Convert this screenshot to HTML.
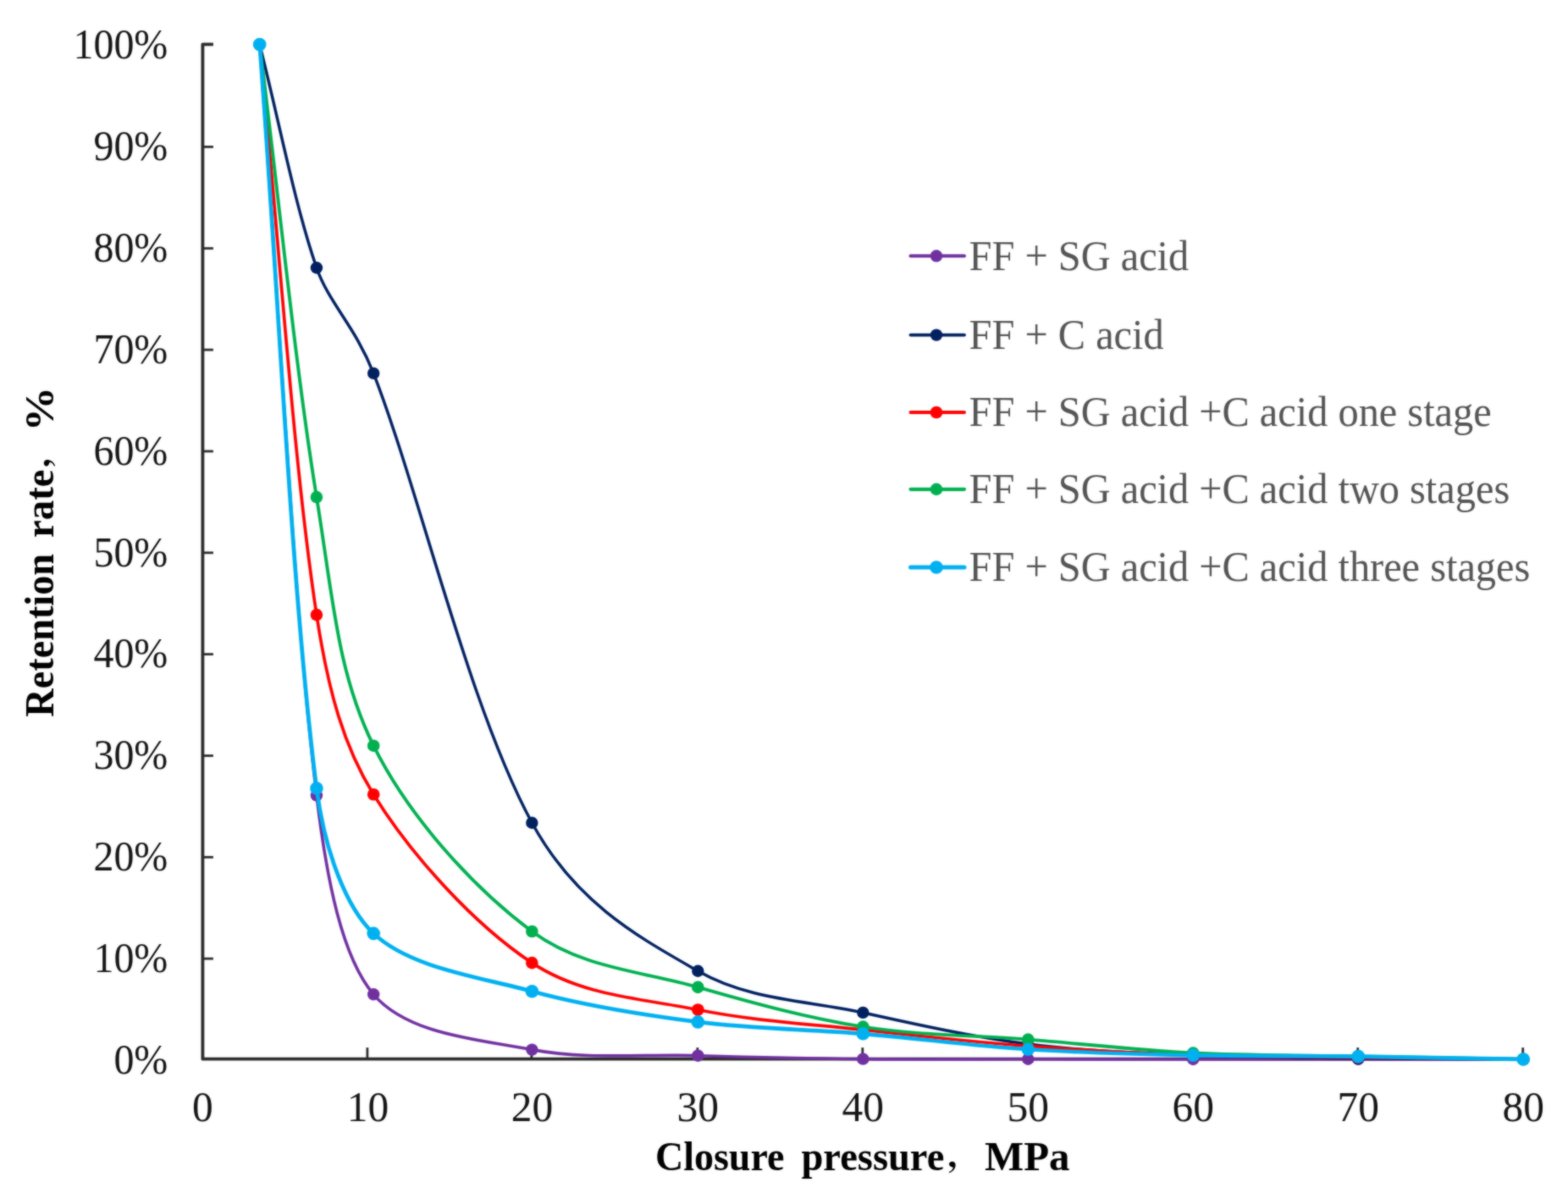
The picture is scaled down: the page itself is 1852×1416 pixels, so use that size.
<!DOCTYPE html>
<html lang="en">
<head>
<meta charset="utf-8">
<title></title>
<style>
html,body{margin:0;padding:0;background:#fff;}
body{width:1852px;height:1416px;overflow:hidden;}
svg{display:block;}
text{font-family:"Liberation Serif","Noto Serif CJK SC",serif;}
.tick{font-size:51px;fill:#141414;}
.leg{font-size:50px;fill:#545454;}
.ttl{font-size:47.5px;font-weight:bold;fill:#000;}
.cm{font-size:36px;font-weight:bold;}
</style>
</head>
<body>
<svg width="1852" height="1416" viewBox="0 0 1852 1416">
<defs><filter id="soft" x="0" y="0" width="1852" height="1416" filterUnits="userSpaceOnUse" color-interpolation-filters="sRGB"><feGaussianBlur in="SourceGraphic" stdDeviation="1.0" result="b"/><feComposite in="SourceGraphic" in2="b" operator="arithmetic" k1="0" k2="0.40" k3="0.60" k4="0"/></filter></defs>
<g filter="url(#soft)">
<rect x="0" y="0" width="1852" height="1416" fill="#ffffff"/>
<g stroke="#2b2b2b" stroke-width="3.8" fill="none" stroke-linejoin="round">
<path d="M251.90 52.30 H239.40 V1250.70 H1800.20"/>
</g>
<g stroke="#2b2b2b" stroke-width="2.8" fill="none">
<line x1="239.40" y1="1132.16" x2="251.90" y2="1132.16"/>
<line x1="239.40" y1="1012.32" x2="251.90" y2="1012.32"/>
<line x1="239.40" y1="892.48" x2="251.90" y2="892.48"/>
<line x1="239.40" y1="772.64" x2="251.90" y2="772.64"/>
<line x1="239.40" y1="652.80" x2="251.90" y2="652.80"/>
<line x1="239.40" y1="532.96" x2="251.90" y2="532.96"/>
<line x1="239.40" y1="413.12" x2="251.90" y2="413.12"/>
<line x1="239.40" y1="293.28" x2="251.90" y2="293.28"/>
<line x1="239.40" y1="173.44" x2="251.90" y2="173.44"/>
<line x1="433.88" y1="1250.70" x2="433.88" y2="1237.20"/>
<line x1="627.85" y1="1250.70" x2="627.85" y2="1237.20"/>
<line x1="823.82" y1="1250.70" x2="823.82" y2="1237.20"/>
<line x1="1018.80" y1="1250.70" x2="1018.80" y2="1237.20"/>
<line x1="1213.78" y1="1250.70" x2="1213.78" y2="1237.20"/>
<line x1="1408.75" y1="1250.70" x2="1408.75" y2="1237.20"/>
<line x1="1603.73" y1="1250.70" x2="1603.73" y2="1237.20"/>
<line x1="1798.70" y1="1250.70" x2="1798.70" y2="1237.20"/>
</g>
<g>
<path d="M306.67 52.60 C329.09 348.21 345.13 699.28 373.93 939.42 C386.04 1040.35 404.03 1130.45 441.20 1174.30 C481.39 1221.73 564.32 1227.52 628.35 1239.62 C692.03 1251.65 759.08 1244.85 824.32 1246.69 C889.39 1248.52 954.30 1249.96 1019.30 1250.64 C1084.29 1251.32 1149.28 1250.70 1214.28 1250.76 C1279.27 1250.82 1344.26 1250.96 1409.25 1251.00 C1474.24 1251.04 1539.23 1251.00 1604.23 1251.00 C1669.22 1251.00 1734.21 1251.00 1799.20 1251.00" fill="none" stroke="#7030A0" stroke-width="3.6" stroke-linejoin="round" stroke-linecap="round"/>
<circle cx="306.67" cy="52.60" r="7.2" fill="#7030A0"/>
<circle cx="373.93" cy="939.42" r="7.2" fill="#7030A0"/>
<circle cx="441.20" cy="1174.30" r="7.2" fill="#7030A0"/>
<circle cx="628.35" cy="1239.62" r="7.2" fill="#7030A0"/>
<circle cx="824.32" cy="1246.69" r="7.2" fill="#7030A0"/>
<circle cx="1019.30" cy="1250.64" r="7.2" fill="#7030A0"/>
<circle cx="1214.28" cy="1250.76" r="7.2" fill="#7030A0"/>
<circle cx="1409.25" cy="1251.00" r="7.2" fill="#7030A0"/>
<circle cx="1604.23" cy="1251.00" r="7.2" fill="#7030A0"/>
<circle cx="1799.20" cy="1251.00" r="7.2" fill="#7030A0"/>
</g>
<g>
<path d="M306.67 52.60 C329.09 140.48 347.98 241.33 373.93 316.25 C388.38 357.95 419.86 385.91 441.20 440.88 C496.28 582.80 552.89 832.74 628.35 971.77 C680.00 1066.93 755.44 1107.26 824.32 1146.74 C885.15 1181.61 954.10 1181.45 1019.30 1195.87 C1084.08 1210.21 1149.03 1224.60 1214.28 1233.02 C1279.01 1241.38 1344.22 1243.41 1409.25 1246.21 C1474.21 1249.00 1539.23 1249.00 1604.23 1249.80 C1669.21 1250.60 1734.21 1250.60 1799.20 1251.00" fill="none" stroke="#002060" stroke-width="3.5" stroke-linejoin="round" stroke-linecap="round"/>
<circle cx="306.67" cy="52.60" r="7.2" fill="#002060"/>
<circle cx="373.93" cy="316.25" r="7.2" fill="#002060"/>
<circle cx="441.20" cy="440.88" r="7.2" fill="#002060"/>
<circle cx="628.35" cy="971.77" r="7.2" fill="#002060"/>
<circle cx="824.32" cy="1146.74" r="7.2" fill="#002060"/>
<circle cx="1019.30" cy="1195.87" r="7.2" fill="#002060"/>
<circle cx="1214.28" cy="1233.02" r="7.2" fill="#002060"/>
<circle cx="1409.25" cy="1246.21" r="7.2" fill="#002060"/>
<circle cx="1604.23" cy="1249.80" r="7.2" fill="#002060"/>
<circle cx="1799.20" cy="1251.00" r="7.2" fill="#002060"/>
</g>
<g>
<path d="M306.67 52.60 C329.09 277.10 345.85 541.22 373.93 726.10 C387.84 817.62 406.36 881.93 441.20 938.22 C485.77 1010.22 559.84 1091.68 628.35 1137.15 C687.55 1176.45 758.58 1179.22 824.32 1192.52 C888.89 1205.58 954.27 1209.09 1019.30 1216.25 C1084.25 1223.39 1149.23 1230.42 1214.28 1235.42 C1279.21 1240.41 1344.23 1244.01 1409.25 1246.21 C1474.22 1248.40 1539.23 1247.80 1604.23 1248.60 C1669.22 1249.40 1734.21 1250.20 1799.20 1251.00" fill="none" stroke="#FF0000" stroke-width="3.7" stroke-linejoin="round" stroke-linecap="round"/>
<circle cx="306.67" cy="52.60" r="7.3" fill="#FF0000"/>
<circle cx="373.93" cy="726.10" r="7.3" fill="#FF0000"/>
<circle cx="441.20" cy="938.22" r="7.3" fill="#FF0000"/>
<circle cx="628.35" cy="1137.15" r="7.3" fill="#FF0000"/>
<circle cx="824.32" cy="1192.52" r="7.3" fill="#FF0000"/>
<circle cx="1019.30" cy="1216.25" r="7.3" fill="#FF0000"/>
<circle cx="1214.28" cy="1235.42" r="7.3" fill="#FF0000"/>
<circle cx="1409.25" cy="1246.21" r="7.3" fill="#FF0000"/>
<circle cx="1604.23" cy="1248.60" r="7.3" fill="#FF0000"/>
<circle cx="1799.20" cy="1251.00" r="7.3" fill="#FF0000"/>
</g>
<g>
<path d="M306.67 52.60 C329.09 230.76 348.34 429.56 373.93 587.09 C393.18 705.59 398.33 794.27 441.20 880.69 C483.14 965.24 559.24 1048.55 628.35 1100.00 C686.95 1143.62 758.67 1146.99 824.32 1165.91 C888.98 1184.54 953.90 1202.30 1019.30 1212.65 C1083.89 1222.87 1149.29 1222.48 1214.28 1227.63 C1279.27 1232.78 1344.21 1240.27 1409.25 1243.57 C1474.19 1246.86 1539.23 1246.17 1604.23 1247.40 C1669.22 1248.64 1734.21 1249.80 1799.20 1251.00" fill="none" stroke="#00B050" stroke-width="3.9" stroke-linejoin="round" stroke-linecap="round"/>
<circle cx="306.67" cy="52.60" r="7.3" fill="#00B050"/>
<circle cx="373.93" cy="587.09" r="7.3" fill="#00B050"/>
<circle cx="441.20" cy="880.69" r="7.3" fill="#00B050"/>
<circle cx="628.35" cy="1100.00" r="7.3" fill="#00B050"/>
<circle cx="824.32" cy="1165.91" r="7.3" fill="#00B050"/>
<circle cx="1019.30" cy="1212.65" r="7.3" fill="#00B050"/>
<circle cx="1214.28" cy="1227.63" r="7.3" fill="#00B050"/>
<circle cx="1409.25" cy="1243.57" r="7.3" fill="#00B050"/>
<circle cx="1604.23" cy="1247.40" r="7.3" fill="#00B050"/>
<circle cx="1799.20" cy="1251.00" r="7.3" fill="#00B050"/>
</g>
<g>
<path d="M306.67 52.60 C329.09 345.41 344.18 698.82 373.93 931.03 C383.66 1006.92 409.77 1072.79 441.20 1102.40 C484.44 1143.13 564.50 1153.29 628.35 1170.71 C692.21 1188.13 758.85 1198.51 824.32 1206.90 C889.17 1215.21 954.34 1215.41 1019.30 1220.80 C1084.32 1226.20 1149.22 1235.02 1214.28 1239.26 C1279.20 1243.49 1344.25 1244.81 1409.25 1246.21 C1474.23 1247.60 1539.24 1246.85 1604.23 1247.64 C1669.22 1248.44 1734.21 1249.88 1799.20 1251.00" fill="none" stroke="#00B0F0" stroke-width="4.7" stroke-linejoin="round" stroke-linecap="round"/>
<circle cx="306.67" cy="52.60" r="7.8" fill="#00B0F0"/>
<circle cx="373.93" cy="931.03" r="7.8" fill="#00B0F0"/>
<circle cx="441.20" cy="1102.40" r="7.8" fill="#00B0F0"/>
<circle cx="628.35" cy="1170.71" r="7.8" fill="#00B0F0"/>
<circle cx="824.32" cy="1206.90" r="7.8" fill="#00B0F0"/>
<circle cx="1019.30" cy="1220.80" r="7.8" fill="#00B0F0"/>
<circle cx="1214.28" cy="1239.26" r="7.8" fill="#00B0F0"/>
<circle cx="1409.25" cy="1246.21" r="7.8" fill="#00B0F0"/>
<circle cx="1604.23" cy="1247.64" r="7.8" fill="#00B0F0"/>
<circle cx="1799.20" cy="1251.00" r="7.8" fill="#00B0F0"/>
</g>
<text class="tick" text-anchor="end" transform="translate(198.3 1267.8) scale(0.940 1)">0%</text>
<text class="tick" text-anchor="end" transform="translate(198.3 1148.0) scale(0.940 1)">10%</text>
<text class="tick" text-anchor="end" transform="translate(198.3 1028.1) scale(0.940 1)">20%</text>
<text class="tick" text-anchor="end" transform="translate(198.3 908.3) scale(0.940 1)">30%</text>
<text class="tick" text-anchor="end" transform="translate(198.3 788.4) scale(0.940 1)">40%</text>
<text class="tick" text-anchor="end" transform="translate(198.3 668.6) scale(0.940 1)">50%</text>
<text class="tick" text-anchor="end" transform="translate(198.3 548.8) scale(0.940 1)">60%</text>
<text class="tick" text-anchor="end" transform="translate(198.3 428.9) scale(0.940 1)">70%</text>
<text class="tick" text-anchor="end" transform="translate(198.3 309.1) scale(0.940 1)">80%</text>
<text class="tick" text-anchor="end" transform="translate(198.3 189.2) scale(0.940 1)">90%</text>
<text class="tick" text-anchor="end" transform="translate(198.3 69.4) scale(0.940 1)">100%</text>
<text class="tick" text-anchor="middle" transform="translate(239.4 1323.8) scale(0.970 1)">0</text>
<text class="tick" text-anchor="middle" transform="translate(434.4 1323.8) scale(0.970 1)">10</text>
<text class="tick" text-anchor="middle" transform="translate(628.4 1323.8) scale(0.970 1)">20</text>
<text class="tick" text-anchor="middle" transform="translate(824.3 1323.8) scale(0.970 1)">30</text>
<text class="tick" text-anchor="middle" transform="translate(1019.3 1323.8) scale(0.970 1)">40</text>
<text class="tick" text-anchor="middle" transform="translate(1214.3 1323.8) scale(0.970 1)">50</text>
<text class="tick" text-anchor="middle" transform="translate(1409.2 1323.8) scale(0.970 1)">60</text>
<text class="tick" text-anchor="middle" transform="translate(1604.2 1323.8) scale(0.970 1)">70</text>
<text class="tick" text-anchor="middle" transform="translate(1799.2 1323.8) scale(0.970 1)">80</text>
<text class="ttl" transform="translate(0 1382.0)"><tspan x="774.0" textLength="152.43" lengthAdjust="spacingAndGlyphs">Closure</tspan> <tspan x="946.5" textLength="168.80" lengthAdjust="spacingAndGlyphs">pressure</tspan><tspan x="1118.5" dy="-5.5" class="cm" textLength="43.22" lengthAdjust="spacingAndGlyphs">，</tspan><tspan x="1163.0" dy="5.5" textLength="100.54" lengthAdjust="spacingAndGlyphs">MPa</tspan></text>
<text class="ttl" transform="translate(62.5 0) rotate(-90)"><tspan x="-846.7" textLength="192.74" lengthAdjust="spacingAndGlyphs">Retention</tspan> <tspan x="-635.0" textLength="80.50" lengthAdjust="spacingAndGlyphs">rate</tspan><tspan x="-553.0" dy="-5.5" class="cm" textLength="43.22" lengthAdjust="spacingAndGlyphs">，</tspan><tspan x="-509.5" dy="5.5" textLength="52.73" lengthAdjust="spacingAndGlyphs">%</tspan></text>
<line x1="1075.5" y1="302.3" x2="1139" y2="302.3" stroke="#7030A0" stroke-width="3.9" stroke-linecap="round"/>
<circle cx="1106" cy="302.3" r="7.2" fill="#7030A0"/>
<text class="leg" transform="translate(1144.6 318.7) scale(0.967 1)">FF + SG acid</text>
<line x1="1075.5" y1="395.6" x2="1139" y2="395.6" stroke="#002060" stroke-width="3.8" stroke-linecap="round"/>
<circle cx="1106" cy="395.6" r="7.2" fill="#002060"/>
<text class="leg" transform="translate(1144.6 412.0) scale(0.967 1)">FF + C acid</text>
<line x1="1075.5" y1="487.0" x2="1139" y2="487.0" stroke="#FF0000" stroke-width="4.0" stroke-linecap="round"/>
<circle cx="1106" cy="487.0" r="7.3" fill="#FF0000"/>
<text class="leg" transform="translate(1144.6 503.4) scale(0.967 1)">FF + SG acid +C acid one stage</text>
<line x1="1075.5" y1="577.8" x2="1139" y2="577.8" stroke="#00B050" stroke-width="4.2" stroke-linecap="round"/>
<circle cx="1106" cy="577.8" r="7.3" fill="#00B050"/>
<text class="leg" transform="translate(1144.6 594.2) scale(0.967 1)">FF + SG acid +C acid two stages</text>
<line x1="1075.5" y1="670.0" x2="1139" y2="670.0" stroke="#00B0F0" stroke-width="5.0" stroke-linecap="round"/>
<circle cx="1106" cy="670.0" r="7.8" fill="#00B0F0"/>
<text class="leg" transform="translate(1144.6 686.4) scale(0.967 1)">FF + SG acid +C acid three stages</text>
</g>
</svg>
</body>
</html>
